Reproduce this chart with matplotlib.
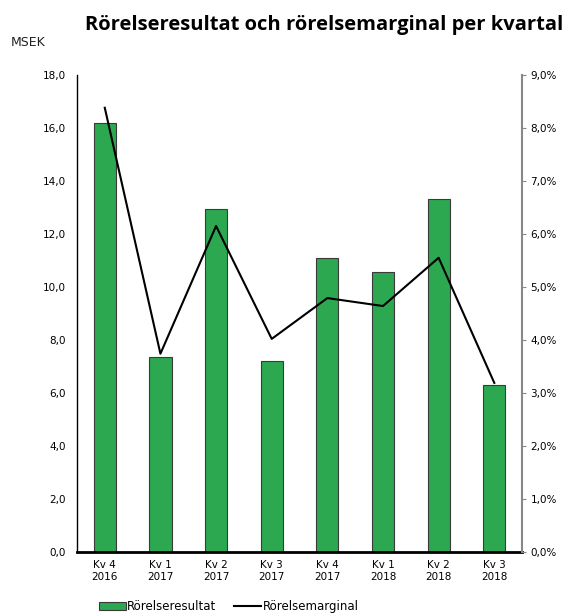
import matplotlib
matplotlib.use("Agg")
import matplotlib.pyplot as plt
from matplotlib.ticker import FuncFormatter

categories = ["Kv 4\n2016", "Kv 1\n2017", "Kv 2\n2017", "Kv 3\n2017",
              "Kv 4\n2017", "Kv 1\n2018", "Kv 2\n2018", "Kv 3\n2018"]
rorelseresultat = [16.2, 7.35, 12.95, 7.2, 11.1, 10.55, 13.3, 6.3]
rorelsemarginal = [8.38, 3.74, 6.15, 4.02, 4.79, 4.64, 5.55, 3.19]

plt.rcParams['font.family'] = ['DejaVu Sans']

fig = plt.figure(figsize=(5.7, 6.14), dpi=100)
ax = fig.add_axes([0.135, 0.101, 0.781, 0.777])
x = list(range(len(categories)))
bars = ax.bar(x, rorelseresultat, width=0.4, color="#2ca850",
              edgecolor="#3a3a3a", linewidth=0.8, label="Rörelseresultat", zorder=2)
ax.set_xlim(-0.5, len(categories) - 0.5)
ax.set_ylim(0, 18)
ax.set_yticks(range(0, 19, 2))
ax.yaxis.set_major_formatter(FuncFormatter(lambda v, p: f"{v:.1f}".replace(".", ",")))
ax.set_xticks(x)
ax.set_xticklabels(categories, fontsize=7.5)
ax.tick_params(axis='y', length=0, labelsize=7.5, pad=8)
ax.tick_params(axis='x', length=0, pad=6)
for s in ["top", "right"]:
    ax.spines[s].set_visible(False)
ax.spines["left"].set_linewidth(1.0)
ax.spines["bottom"].set_linewidth(2.0)

ax2 = ax.twinx()
line, = ax2.plot(x, rorelsemarginal, color="black", linewidth=1.5, label="Rörelsemarginal", zorder=3)
ax2.set_ylim(0, 9)
ax2.set_yticks(range(0, 10))
ax2.yaxis.set_major_formatter(FuncFormatter(lambda v, p: f"{v:.1f}%".replace(".", ",")))
ax2.tick_params(axis='y', length=3, color="#888888", labelsize=7.5, pad=3)
for s in ["top", "left", "bottom"]:
    ax2.spines[s].set_visible(False)
ax2.spines["right"].set_color("#888888")
ax2.spines["right"].set_linewidth(1.5)

fig.text(0.568, 0.96, "Rörelseresultat och rörelsemarginal per kvartal",
         ha="center", va="center", fontsize=14.5, fontweight="bold", family="Open Sans")
fig.text(0.018, 0.93, "MSEK", ha="left", va="center", fontsize=9, color="#222222",
         family="Liberation Sans Narrow")

fig.legend([bars, line], ["Rörelseresultat", "Rörelsemarginal"], loc="lower left",
           bbox_to_anchor=(0.155, -0.016), ncol=2, frameon=False, fontsize=8.5,
           handlelength=2.3, handleheight=0.7, columnspacing=1.5, handletextpad=0.1)

fig.savefig("out.png", dpi=100)
